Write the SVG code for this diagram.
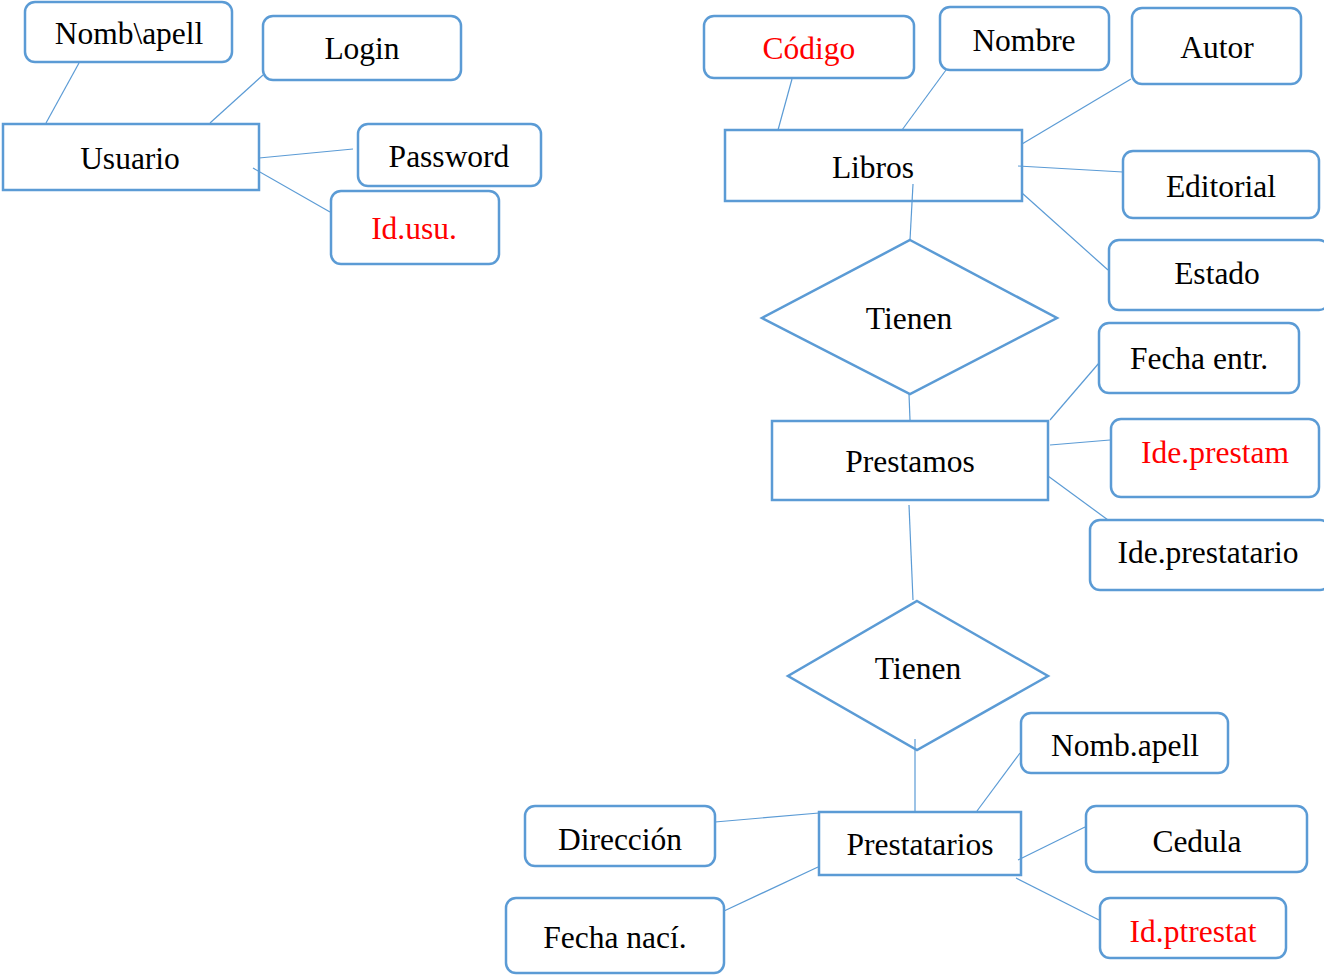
<svg xmlns="http://www.w3.org/2000/svg" width="1324" height="975" viewBox="0 0 1324 975">
<style>
.ent{fill:#fff;stroke:#5B9BD5;stroke-width:2.5}
.att{fill:#fff;stroke:#5B9BD5;stroke-width:2.5}
.rel{fill:#fff;stroke:#5B9BD5;stroke-width:2.5}
.con line{stroke:#5B9BD5;stroke-width:1.2}
text{font-family:"Liberation Serif","Times New Roman",serif;font-size:31.5px;text-anchor:middle;fill:#000}
text.key{fill:#FF0000}
</style>
<rect width="1324" height="975" fill="#fff"/>
<g id="usuario"><rect class="ent" x="3" y="124" width="256" height="66"/><text x="130" y="169">Usuario</text></g>
<g id="nombapell1"><rect class="att" x="25" y="2" width="207" height="60" rx="10"/><text x="129" y="44">Nomb\apell</text></g>
<g id="login"><rect class="att" x="263" y="16" width="198" height="64" rx="10"/><text x="362" y="59">Login</text></g>
<g id="password"><rect class="att" x="358" y="124" width="183" height="62" rx="10"/><text x="449" y="167">Password</text></g>
<g id="idusu"><rect class="att" x="331" y="191" width="168" height="73" rx="10"/><text class="key" x="414" y="239">Id.usu.</text></g>
<g id="libros"><rect class="ent" x="725" y="130" width="297" height="71"/><text x="873" y="178">Libros</text></g>
<g id="codigo"><rect class="att" x="704" y="16" width="210" height="62" rx="10"/><text class="key" x="809" y="59">Código</text></g>
<g id="nombre"><rect class="att" x="940" y="7" width="169" height="63" rx="10"/><text x="1024" y="51">Nombre</text></g>
<g id="autor"><rect class="att" x="1132" y="8" width="169" height="76" rx="10"/><text x="1217" y="58">Autor</text></g>
<g id="editorial"><rect class="att" x="1123" y="151" width="196" height="67" rx="10"/><text x="1221" y="197">Editorial</text></g>
<g id="estado"><rect class="att" x="1109" y="240" width="220" height="70" rx="10"/><text x="1217" y="284">Estado</text></g>
<g id="tienen1"><polygon class="rel" points="910,240 1057,318 910,394 762,318"/><text x="909" y="329">Tienen</text></g>
<g id="prestamos"><rect class="ent" x="772" y="421" width="276" height="79"/><text x="910" y="472">Prestamos</text></g>
<g id="fechaentr"><rect class="att" x="1099" y="323" width="200" height="70" rx="10"/><text x="1199" y="369">Fecha entr.</text></g>
<g id="ideprestam"><rect class="att" x="1111" y="419" width="208" height="78" rx="10"/><text class="key" x="1215" y="463">Ide.prestam</text></g>
<g id="ideprestatario"><rect class="att" x="1090" y="520" width="240" height="70" rx="10"/><text x="1208" y="563">Ide.prestatario</text></g>
<g id="tienen2"><polygon class="rel" points="917,601 1048,676 917,750 788,676"/><text x="918" y="679">Tienen</text></g>
<g id="prestatarios"><rect class="ent" x="819" y="812" width="202" height="63"/><text x="920" y="855">Prestatarios</text></g>
<g id="nombapell2"><rect class="att" x="1021" y="713" width="207" height="60" rx="10"/><text x="1125" y="756">Nomb.apell</text></g>
<g id="direccion"><rect class="att" x="525" y="806" width="190" height="60" rx="10"/><text x="620" y="850">Dirección</text></g>
<g id="cedula"><rect class="att" x="1086" y="806" width="221" height="66" rx="10"/><text x="1197" y="852">Cedula</text></g>
<g id="fechanaci"><rect class="att" x="506" y="898" width="218" height="75" rx="10"/><text x="615" y="948">Fecha nací.</text></g>
<g id="idptrestat"><rect class="att" x="1100" y="898" width="186" height="60" rx="10"/><text class="key" x="1193" y="942">Id.ptrestat</text></g>
<g id="connectors" class="con">
<line x1="79" y1="63" x2="46" y2="123"/>
<line x1="263" y1="75" x2="210" y2="123"/>
<line x1="353" y1="149" x2="259" y2="158"/>
<line x1="330" y1="212" x2="253" y2="168"/>
<line x1="792" y1="79" x2="778" y2="130"/>
<line x1="946" y1="70" x2="902" y2="130"/>
<line x1="1131" y1="79" x2="1022" y2="144"/>
<line x1="1123" y1="172" x2="1018" y2="166"/>
<line x1="1108" y1="270" x2="1022" y2="193"/>
<line x1="913" y1="184" x2="910" y2="240"/>
<line x1="909" y1="394" x2="910" y2="420"/>
<line x1="1099" y1="363" x2="1050" y2="420"/>
<line x1="1110" y1="440" x2="1050" y2="445"/>
<line x1="1108" y1="520" x2="1048" y2="476"/>
<line x1="909" y1="505" x2="913" y2="600"/>
<line x1="915" y1="739" x2="915" y2="812"/>
<line x1="1020" y1="753" x2="977" y2="811"/>
<line x1="715" y1="822" x2="819" y2="813"/>
<line x1="1085" y1="827" x2="1018" y2="860"/>
<line x1="724" y1="911" x2="818" y2="867"/>
<line x1="1099" y1="920" x2="1016" y2="878"/>
</g>
</svg>
